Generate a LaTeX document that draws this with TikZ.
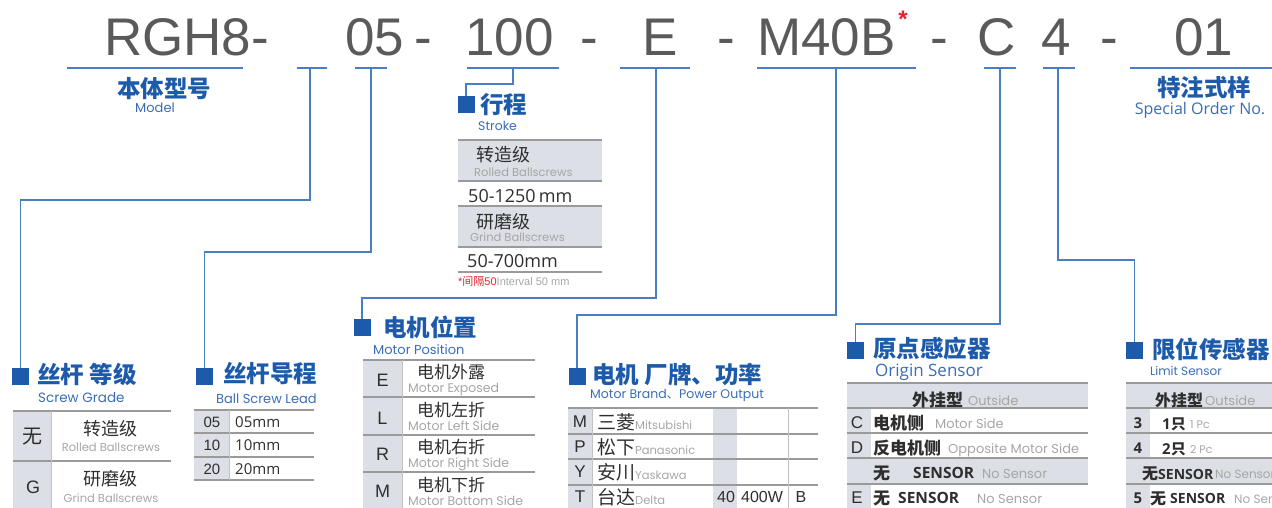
\documentclass[tikz,border=0pt]{standalone}
\usepackage{fontspec}
\setmainfont{Liberation Sans}
\newfontfamily\cjk{Noto Sans CJK SC}
\newfontfamily\geo{Poppins}
\newfontfamily\hum{Open Sans}
\definecolor{lineblue}{HTML}{4A7EC3}
\definecolor{headblue}{HTML}{1D5BAA}
\definecolor{subblue}{HTML}{3A6DB5}
\definecolor{codegray}{HTML}{5A5A5A}
\definecolor{cellgray}{HTML}{DCDFE6}
\definecolor{rulegray}{HTML}{9A9A9A}
\definecolor{txtdark}{HTML}{2E2E2E}
\definecolor{txtlight}{HTML}{A6A6A6}
\definecolor{redmark}{HTML}{E5222B}
\newcommand{\fs}[1]{\fontsize{#1}{#1}\selectfont}
\begin{document}
\begin{tikzpicture}[x=1pt,y=-1pt,
  conn/.style={draw=lineblue,line width=1.3pt},
  uline/.style={draw=lineblue,line width=1.3pt},
  sqbox/.style={fill=headblue,minimum size=17pt,inner sep=0pt},
  head/.style={font=\cjk\bfseries\fs{23.5},text=headblue,anchor=west,inner sep=0pt},
  sub/.style={font=\geo\fs{13},text=subblue,anchor=base west,inner sep=0pt},
  code/.style={font=\fs{53},text=codegray,anchor=base west,inner sep=0pt},
  tcjk/.style={font=\cjk\fs{17},text=txtdark,anchor=west,inner sep=0pt},
  tcjkb/.style={font=\cjk\bfseries\fs{17},text=txtdark,anchor=base west,inner sep=0pt},
  teng/.style={font=\geo\fs{13},text=txtlight,anchor=base west,inner sep=0pt},
  tkey/.style={font=\fs{17},text=txtdark,anchor=base,inner sep=0pt},
  tval/.style={font=\hum\fs{15},text=txtdark,anchor=base west,inner sep=0pt},
  tbold/.style={font=\hum\bfseries\fs{15.5},text=txtdark,anchor=base west,inner sep=0pt},
  rulel/.style={draw=rulegray,line width=1.3pt},
  vrule/.style={draw=rulegray!60,line width=0.8pt}]
\useasboundingbox (0,0) rectangle (1272,508);
\clip (0,0) rectangle (1272,508);

% ---------- code row ----------
\node[code] (c1) at (104,56) {RGH8-};
\node[code] (c2) at (345,56) {05};
\node[code] (c3) at (414,56) {-};
\node[code] (c4) at (465,56) {100};
\node[code] (c5) at (580,56) {-};
\node[code] (c6) at (642,56) {E};
\node[code] (c7) at (717,56) {-};
\node[code] (c8) at (757,56) {M40B};
\node[text=redmark,font=\bfseries\fs{24},inner sep=0pt] (ast) at (903,19) {*};
\node[code] (c9) at (930,56) {-};
\node[code] (c10) at (977,56) {C};
\node[code] (c11) at (1041,56) {4};
\node[code] (c12) at (1100,56) {-};
\node[code] (c13) at (1174,56) {01};

% ---------- underlines ----------
\draw[uline] (67,68) -- (243,68);
\draw[uline] (297,68) -- (327,68);
\draw[uline] (355,68) -- (387,68);
\draw[uline] (467,68) -- (559,68);
\draw[uline] (620,68) -- (690,68);
\draw[uline] (757,68) -- (916,68);
\draw[uline] (984,68) -- (1016,68);
\draw[uline] (1043,68) -- (1075,68);
\draw[uline] (1130,68) -- (1272,68);

\coordinate (ugr) at (310,68);
\coordinate (uld) at (371,68);
\coordinate (ust) at (513,68);
\coordinate (ump) at (656,68);
\coordinate (ubr) at (836,68);
\coordinate (uor) at (1000,68);
\coordinate (uli) at (1058,68);

% ---------- squares ----------
\node[sqbox] (sqgr) at (20.5,376.5) {};
\node[sqbox] (sqld) at (204.5,376.5) {};
\node[sqbox] (sqst) at (466,104.5) {};
\node[sqbox] (sqmp) at (362,327.5) {};
\node[sqbox] (sqbr) at (577,376.5) {};
\node[sqbox] (sqor) at (855.5,350.5) {};
\node[sqbox] (sqli) at (1134.5,350.5) {};

% ---------- connectors ----------
\draw[conn] (ugr) -- ++(0,132) -| (sqgr.north);
\draw[conn] (uld) -- ++(0,184) -| (sqld.north);
\draw[conn] (ust) -- ++(0,16) -| (sqst.north);
\draw[conn] (ump) -- ++(0,230) -| (sqmp.north);
\draw[conn] (ubr) -- ++(0,247) -| (sqbr.north);
\draw[conn] (uor) -- ++(0,256) -| (sqor.north);
\draw[conn] (uli) -- ++(0,192) -| (sqli.north);

% ---------- headings ----------
\node[head,anchor=center] (hmo) at (164,89) {本体型号};
\node[head,anchor=center] (hsp) at (1204,88) {特注式样};
\node[head] (hgr) at (37,374) {丝杆 等级};
\node[head] (hld) at (223,374) {丝杆导程};
\node[head] (hst) at (480,105) {行程};
\node[head] (hmp) at (383,327) {电机位置};
\node[head] (hbr) at (592,375) {电机 厂牌、功率};
\node[head] (hor) at (873,349) {原点感应器};
\node[head] (hli) at (1152,349) {限位传感器};

\node[sub,anchor=base] (smo) at (155,113) {Model};
\node[sub,font=\hum\fs{16},anchor=base] (ssp) at (1200,115) {Special Order No.};
\node[sub,font=\geo\fs{12.5}] (sst) at (478,131) {Stroke};
\node[sub,font=\geo\fs{13.5}] (sgr) at (38,402) {Screw Grade};
\node[sub] (sld) at (216,403) {Ball Screw Lead};
\node[sub] (smp) at (373,354) {Motor Position};
\node[sub,font=\geo\fs{12.5}] (sbr) at (590,398) {Motor Brand{\cjk 、}Power Output};
\node[sub,font=\hum\fs{17}] (sor) at (875,376) {Origin Sensor};
\node[sub,font=\geo\fs{12}] (sli) at (1150,375) {Limit Sensor};

% ---------- stroke table ----------
\fill[cellgray] (458,140) rectangle (602,181);
\fill[cellgray] (458,206) rectangle (602,247);
\foreach \yy in {140,181,206,247,272} \draw[rulel] (458,\yy) -- (602,\yy);
\node[tcjk,font=\cjk\fs{18}] (s1c) at (476,155) {转造级};
\node[teng,font=\geo\fs{11.5}] (s1e) at (474,176) {Rolled Ballscrews};
\node[tval,font=\hum\fs{18}] (s1v) at (468,202) {50-1250\,mm};
\node[tcjk,font=\cjk\fs{18}] (s2c) at (476,221.5) {研磨级};
\node[teng,font=\geo\fs{11.5}] (s2e) at (470,241) {Grind Ballscrews};
\node[tval,font=\hum\fs{18}] (s2v) at (467,267) {50-700mm};
\node[anchor=base west,inner sep=0pt,font=\fs{11}] (snote) at (458,285)
  {\textcolor{redmark}{*{\cjk 间隔}50}\textcolor{txtlight}{Interval 50 mm}};

% ---------- screw grade table ----------
\fill[cellgray] (13,411) rectangle (51,508);
\draw[rulel] (13,411) -- (171,411);
\draw[rulel] (13,461) -- (171,461);
\draw[vrule] (51,411) -- (51,508);
\node[font=\cjk\fs{20},text=txtdark,inner sep=0pt] (g1k) at (33,437) {无};
\node[tkey,font=\fs{18}] (g2k) at (33,493) {G};
\node[tcjk,font=\cjk\fs{18},anchor=center] (g1c) at (110,428.5) {转造级};
\node[teng,font=\geo\fs{11.5},anchor=base] (g1e) at (111,451) {Rolled Ballscrews};
\node[tcjk,font=\cjk\fs{18},anchor=center] (g2c) at (110,478.5) {研磨级};
\node[teng,font=\geo\fs{11.5},anchor=base] (g2e) at (111,502) {Grind Ballscrews};

% ---------- lead table ----------
\fill[cellgray] (194,410) rectangle (229,480);
\foreach \yy in {410,433,457,480} \draw[rulel] (194,\yy) -- (314,\yy);
\draw[vrule] (229,410) -- (229,480);
\node[tkey,font=\fs{15}] (l1k) at (212,427) {05};
\node[tkey,font=\fs{15}] (l2k) at (212,450) {10};
\node[tkey,font=\fs{15}] (l3k) at (212,474) {20};
\node[tval] (l1v) at (235,427) {05mm};
\node[tval] (l2v) at (235,450) {10mm};
\node[tval] (l3v) at (235,474) {20mm};

% ---------- motor position table ----------
\fill[cellgray] (363,360) rectangle (402,508);
\foreach \yy in {360,397,435,472} \draw[rulel] (363,\yy) -- (535,\yy);
\draw[vrule] (402,360) -- (402,508);
\node[tkey,font=\fs{18},anchor=center] (p1k) at (382.5,380) {E};
\node[tkey,font=\fs{18},anchor=center] (p2k) at (382.5,418) {L};
\node[tkey,font=\fs{18},anchor=center] (p3k) at (382.5,454) {R};
\node[tkey,font=\fs{18},anchor=center] (p4k) at (382.5,491) {M};
\node[tcjk] (p1c) at (417,372.5) {电机外露};
\node[tcjk] (p2c) at (417,410) {电机左折};
\node[tcjk] (p3c) at (417,447) {电机右折};
\node[tcjk] (p4c) at (417,485) {电机下折};
\node[teng,font=\geo\fs{12.5}] (p1e) at (408,392) {Motor Exposed};
\node[teng,font=\geo\fs{12.5}] (p2e) at (408,430) {Motor Left Side};
\node[teng,font=\geo\fs{12.5}] (p3e) at (408,467) {Motor Right Side};
\node[teng,font=\geo\fs{12.5}] (p4e) at (408,505) {Motor Bottom Side};

% ---------- motor brand table ----------
\fill[cellgray] (568,408) rectangle (592,508);
\fill[cellgray] (713,408) rectangle (737,508);
\foreach \yy in {408,434,459,485} \draw[rulel] (568,\yy) -- (818,\yy);
\foreach \xx in {592,788} \draw[vrule] (\xx,408) -- (\xx,508);
\node[tkey] (b1k) at (580,427) {M};
\node[tkey] (b2k) at (580,452) {P};
\node[tkey] (b3k) at (580,477) {Y};
\node[tkey] (b4k) at (580,502) {T};
\node[anchor=base west,inner sep=0pt,text=txtdark] (b1c) at (597,429) {{\cjk\fs{19}三菱}{\geo\fs{11.5}\color{txtlight}Mitsubishi}};
\node[anchor=base west,inner sep=0pt,text=txtdark] (b2c) at (597,454) {{\cjk\fs{19}松下}{\geo\fs{11.5}\color{txtlight}Panasonic}};
\node[anchor=base west,inner sep=0pt,text=txtdark] (b3c) at (597,479) {{\cjk\fs{19}安川}{\geo\fs{11.5}\color{txtlight}Yaskawa}};
\node[anchor=base west,inner sep=0pt,text=txtdark] (b4c) at (597,504) {{\cjk\fs{19}台达}{\geo\fs{11.5}\color{txtlight}Delta}};
\node[tkey,font=\fs{16}] (b4p) at (726,502) {40};
\node[tkey,font=\fs{16},anchor=base west] (b4w) at (741,502) {400W};
\node[tkey,font=\fs{16}] (b4b) at (801,502) {B};

% ---------- origin sensor table ----------
\fill[cellgray] (847,383) rectangle (1088,408);
\fill[cellgray] (847,458) rectangle (1088,484);
\fill[cellgray] (847,408) rectangle (871,458);
\fill[cellgray] (847,484) rectangle (871,508);
\foreach \yy in {383,408,433,458,484} \draw[rulel] (847,\yy) -- (1088,\yy);
\node[tcjkb] (o0c) at (912,406) {外挂型};
\node[teng] (o0e) at (968,405) {Outside};
\node[tkey] (o1k) at (857,428) {C};
\node[tcjkb] (o1c) at (873,429) {电机侧};
\node[teng] (o1e) at (935,428) {Motor Side};
\node[tkey] (o2k) at (857,453) {D};
\node[tcjkb] (o2c) at (873,454) {反电机侧};
\node[teng] (o2e) at (948,453) {Opposite Motor Side};
\node[tcjkb] (o3c) at (873,479) {无};
\node[tbold] (o3s) at (913,478) {SENSOR};
\node[teng] (o3e) at (982,478) {No Sensor};
\node[tkey] (o4k) at (857,503) {E};
\node[tcjkb] (o4c) at (873,504) {无};
\node[tbold] (o4s) at (898,503) {SENSOR};
\node[teng] (o4e) at (977,503) {No Sensor};

% ---------- limit sensor table ----------
\fill[cellgray] (1126,383) rectangle (1272,408);
\fill[cellgray] (1126,458) rectangle (1272,484);
\fill[cellgray] (1126,408) rectangle (1150,458);
\fill[cellgray] (1126,484) rectangle (1150,508);
\foreach \yy in {383,408,433,458,484} \draw[rulel] (1126,\yy) -- (1272,\yy);
\node[tcjkb,font=\cjk\bfseries\fs{16}] (m0c) at (1155,406) {外挂型};
\node[teng] (m0e) at (1205,405) {Outside};
\node[tkey,font=\hum\bfseries\fs{15}] (m1k) at (1138,428) {3};
\node[anchor=base west,inner sep=0pt,text=txtdark] (m1c) at (1162,429) {{\hum\bfseries\fs{15}1}{\cjk\bfseries\fs{15}只}};
\node[teng,font=\geo\fs{11}] (m1e) at (1190,428) {1 Pc};
\node[tkey,font=\hum\bfseries\fs{15}] (m2k) at (1138,453) {4};
\node[anchor=base west,inner sep=0pt,text=txtdark] (m2c) at (1162,454) {{\hum\bfseries\fs{15}2}{\cjk\bfseries\fs{15}只}};
\node[teng,font=\geo\fs{11}] (m2e) at (1190,453) {2 Pc};
\node[anchor=base west,inner sep=0pt,text=txtdark] (m3c) at (1142,479) {{\cjk\bfseries\fs{16}无}{\hum\bfseries\fs{14}SENSOR}};
\node[teng,font=\geo\fs{12}] (m3e) at (1215,478) {No Sensor};
\node[tkey,font=\hum\bfseries\fs{15}] (m4k) at (1138,503) {5};
\node[tcjkb,font=\cjk\bfseries\fs{16}] (m4c) at (1150,504) {无};
\node[tbold,font=\hum\bfseries\fs{14}] (m4s) at (1170,503) {SENSOR};
\node[teng,font=\geo\fs{12}] (m4e) at (1234,503) {No Sensor};
\end{tikzpicture}
\end{document}
